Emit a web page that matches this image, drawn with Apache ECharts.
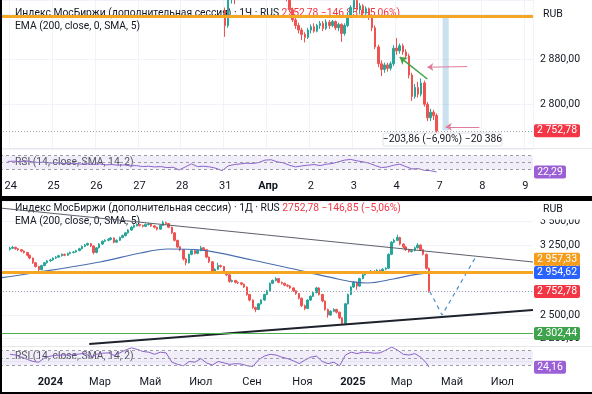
<!DOCTYPE html>
<html><head><meta charset="utf-8">
<script src="https://cdn.jsdelivr.net/npm/echarts@6/dist/echarts.min.js"></script>
<style>html,body{margin:0;padding:0;background:#fff}#c{width:592px;height:394px}</style>
</head><body><div id="c"></div>
<script>
// ================= DATA =================
// --- top panel (1 hour candles) ---
const topDayLabels = ['21','24','25','26','27','28','31','Апр','2','3','4','7','8','9'];
const topBoldLabels = ['Апр'];
const topPriceTicks = [2800, 2880];
const topCandleStart = '31|0';
// [open, close, low, high]  Mar 31 .. Apr 4, 14 bars per day
const topCandles = [
 [2966,2940,2920,2972],[2940,2988,2936,2992],[2988,2995,2979,3002],[2995,2990,2978,3004],[2990,3001,2986,3006],
 [3001,3008,2996,3012],[3008,3003,2998,3014],[3003,3010,3000,3016],[3010,3004,2999,3013],[3004,3012,3001,3018],
 [3012,3015,3007,3021],[3015,3009,3004,3019],[3009,3013,3005,3017],[3013,3011,3006,3016],
 [3011,3018,3004,3025],[3018,3012,3006,3022],[3012,3006,2998,3016],[3006,3010,3000,3014],[3010,3002,2996,3013],
 [3002,2996,2990,3006],[2996,2988,2983,3000],[2988,2968,2964,2992],[2968,2950,2946,2972],[2950,2940,2934,2956],
 [2940,2932,2926,2945],[2932,2924,2914,2936],[2924,2919,2910,2928],[2919,2932,2916,2936],
 [2932,2938,2926,2942],[2938,2930,2927,2944],[2930,2940,2928,2943],[2940,2944,2934,2948],[2944,2935,2930,2948],
 [2935,2946,2932,2951],[2946,2940,2934,2950],[2940,2947,2937,2950],[2947,2936,2932,2949],[2936,2942,2930,2945],
 [2942,2926,2911,2944],[2926,2940,2922,2944],[2940,2958,2937,2962],[2958,2972,2954,2976],
 [2972,2985,2962,2995],[2985,2968,2962,2990],[2968,2975,2960,2980],[2975,2962,2958,2978],[2962,2970,2956,2974],
 [2970,2955,2950,2972],[2955,2936,2930,2958],[2936,2902,2898,2940],[2902,2872,2866,2906],[2872,2862,2850,2878],
 [2862,2870,2856,2874],[2870,2864,2858,2874],[2864,2872,2860,2876],[2872,2899.63,2868,2905],
 [2900,2895,2888,2918],[2895,2904,2890,2908],[2904,2893,2888,2908],[2893,2886,2880,2898],[2886,2852,2846,2890],
 [2852,2814,2806,2856],[2814,2830,2810,2836],[2830,2818,2812,2840],[2818,2838,2814,2846],[2838,2800,2796,2842],
 [2800,2776,2770,2804],[2776,2786,2770,2792],[2786,2780,2772,2790],[2780,2752.78,2749,2784]
];
// RSI every second hourly bar, from the 3rd bar
const topRsi = [53,54,52,55,52,50,51,48,50,47,46,48,45,46,44,46,43,44,42,43,40,41,38,39,37,38,35,36,28,37,
 46,38,39,37,33,26,40,44,46,48,47,50,57,58,52,49,42,37,40,42,44,41,45,47,52,57,59,55,52,48,41,35,37,42,45,38,31,32,27,26,22.29];
const topLevel = 2957.33;
const lastPrice = 2752.78;
const topRsiLast = 22.29;
const measureFrom = 2957.33, measureTo = 2753.47;
const measureText = '−203,86 (−6,90%) −20 386';
const pinkArrows = [[['7|9', 2867], ['4|10', 2866]], [['7|13', 2760], ['7|2', 2760]]];
const greenArrows = [[['4|10', 2845], ['4|1', 2884]]];

// --- bottom panel (daily) ---
const bottomStart = '2023-11-13';
const bottomCandles = [
 [3205,3215,3190,3232],[3215,3225,3205,3240],[3225,3210,3198,3232],[3210,3200,3186,3218],[3200,3185,3172,3206],
 [3185,3170,3158,3192],[3170,3140,3128,3176],[3140,3110,3098,3148],[3110,3060,3048,3115],[3060,3020,3008,3066],
 [3020,2985,2962,3028],[2985,3030,2978,3038],[3030,3060,3022,3068],[3060,3080,3050,3090],[3080,3090,3070,3102],
 [3090,3110,3082,3118],[3110,3120,3100,3130],[3120,3135,3112,3145],[3135,3150,3126,3160],[3150,3140,3130,3158],
 [3140,3160,3134,3168],[3160,3170,3150,3180],[3170,3175,3160,3186],[3175,3190,3168,3198],[3190,3210,3184,3220],
 [3210,3235,3202,3245],[3235,3250,3226,3262],[3250,3265,3240,3276],[3265,3240,3228,3272],[3240,3170,3150,3246],
 [3170,3220,3162,3228],[3220,3260,3212,3270],[3260,3290,3252,3300],[3290,3300,3280,3312],[3300,3310,3290,3322],
 [3310,3325,3300,3336],[3325,3280,3268,3330],[3280,3300,3272,3310],[3300,3330,3294,3340],[3330,3350,3322,3362],
 [3350,3380,3342,3390],[3380,3410,3372,3420],[3410,3440,3402,3452],[3440,3460,3430,3472],[3460,3470,3450,3482],
 [3470,3460,3448,3478],[3460,3450,3438,3468],[3450,3470,3442,3480],[3470,3475,3458,3486],[3475,3455,3444,3482],
 [3455,3440,3428,3462],[3440,3420,3406,3446],[3420,3460,3414,3468],[3460,3490,3452,3510],[3490,3480,3466,3500],
 [3480,3440,3430,3486],[3440,3380,3368,3446],[3380,3300,3288,3386],[3300,3230,3218,3306],[3230,3200,3184,3238],
 [3200,3100,3084,3206],[3100,3060,3032,3110],[3060,3150,3052,3158],[3150,3190,3140,3200],[3190,3160,3150,3198],
 [3160,3190,3152,3200],[3190,3220,3182,3240],[3220,3200,3188,3228],[3200,3120,3108,3206],[3120,3070,3056,3126],
 [3070,2960,2948,3076],[2960,2990,2950,3000],[2990,3030,2982,3060],[3030,3020,3006,3040],[3020,2960,2948,3026],
 [2960,2930,2916,2968],[2930,2860,2846,2936],[2860,2870,2848,2880],[2870,2850,2838,2878],[2850,2845,2832,2860],
 [2845,2830,2818,2852],[2830,2800,2788,2836],[2800,2720,2706,2806],[2720,2660,2646,2726],[2660,2580,2566,2666],
 [2580,2560,2530,2590],[2560,2620,2552,2628],[2620,2660,2612,2670],[2660,2720,2652,2728],[2720,2760,2712,2770],
 [2760,2840,2752,2848],[2840,2870,2830,2880],[2870,2890,2860,2905],[2890,2850,2840,2896],[2850,2840,2828,2858],
 [2840,2820,2808,2846],[2820,2810,2798,2828],[2810,2790,2778,2818],[2790,2760,2748,2796],[2760,2730,2716,2766],
 [2730,2680,2666,2736],[2680,2600,2586,2686],[2600,2570,2552,2612],[2570,2660,2562,2668],[2660,2700,2650,2710],
 [2700,2740,2692,2750],[2740,2790,2732,2802],[2790,2720,2708,2796],[2720,2650,2636,2726],[2650,2560,2546,2656],
 [2560,2500,2472,2568],[2500,2540,2490,2552],[2540,2560,2530,2572],[2560,2530,2516,2566],[2530,2470,2456,2536],
 [2470,2410,2400,2476],[2410,2620,2404,2630],[2620,2720,2612,2730],[2720,2800,2712,2810],[2800,2850,2790,2862],
 [2850,2810,2770,2856],[2810,2890,2802,2900],[2890,2930,2882,2940],[2930,2950,2922,2960],[2950,2960,2940,2972],
 [2960,2970,2950,2982],[2970,2950,2938,2978],[2950,2980,2942,2990],[2980,2960,2948,2986],[2960,2990,2952,3000],
 [2990,3000,2980,3012],[3000,3150,2994,3160],[3150,3280,3142,3292],[3280,3300,3268,3318],[3300,3330,3290,3360],
 [3330,3260,3248,3338],[3260,3230,3218,3268],[3230,3200,3186,3238],[3200,3180,3168,3208],[3180,3190,3170,3202],
 [3190,3220,3182,3232],[3220,3250,3212,3270],[3250,3200,3188,3256],[3200,3150,3138,3208],[3150,3000,2986,3158],
 [3000,2752.78,2740,3008]
];
const emaDates = ['2023-11-01','2023-12-11','2024-03-01','2024-04-19','2024-05-22','2024-07-01','2024-09-01',
 '2024-11-01','2024-12-08','2025-01-01','2025-01-19','2025-02-19','2025-03-15','2025-04-03'];
const emaValues = [2897,2950,3068,3164,3207,3196,3089,2971,2897,2854,2843,2886,2929,2954.62];
const bottomRsi = [60,58,52,46,40,38,50,55,57,58,58,59,61,63,52,60,63,64,57,64,72,78,74,68,66,60,66,64,38,32,
 28,40,38,48,36,30,40,36,32,34,33,28,26,45,55,60,58,52,48,42,34,44,52,55,40,34,38,28,58,66,
 62,66,65,63,64,72,80,72,60,58,62,52,36,24.16];
const bottomRsiLastDate = '2025-04-03';
const emaLast = 2954.62;
const supportLevel = 2302.44;
const upperTrend = [['2023-11-01', 3646], ['2025-08-07', 3068]];
const lowerTrend = [['2024-02-17', 2190], ['2025-08-07', 2554]];
const projection = [['2025-04-04', 2752.78], ['2025-04-19', 2500], ['2025-05-31', 3143]];
const bottomTickDates = ['2024-01-01','2024-03-01','2024-05-01','2024-07-01','2024-09-01','2024-11-01',
 '2025-01-01','2025-03-01','2025-05-01','2025-07-01'];
const bottomTickLabels = ['2024','Мар','Май','Июл','Сен','Ноя','2025','Мар','Май','Июл'];
const bottomBoldLabels = ['2024','2025'];
const bottomPriceTicks = [2250, 2500, 2750, 3000, 3250, 3500];
const bottomRange = ['2023-11-01', '2025-08-07'];

// ================= BUILD =================
const DAY = 86400000;
function ts(s){ const p = s.split('-').map(Number); return Date.UTC(p[0], p[1]-1, p[2]); }
function fmt(v){ const s = v.toFixed(2).split('.'); return s[0].replace(/\B(?=(\d{3})+(?!\d))/g, ' ') + ',' + s[1]; }
const FONT = 'Roboto';

const allSlots = [];
topDayLabels.forEach(d => { for (let h = 0; h < 14; h++) allSlots.push(d + '|' + h); });
const topCats = allSlots.slice(11, 11 + 174);
const c0 = topCats.indexOf(topCandleStart);
const topCandleData = topCandles.map((c, i) => [c0 + i].concat(c));
const topRsiData = topRsi.map((v, i) => [2 + 2 * i, v]);
const isDayStart = (i, v) => String(v).split('|')[1] === '0';
const topLabelFmt = v => { const d = String(v).split('|')[0]; return topBoldLabels.includes(d) ? '{b|' + d + '}' : d; };

const b0 = ts(bottomStart);
const bottomCandleData = bottomCandles.map((c, k) => [b0 + (Math.floor(k / 2) * 7 + (k % 2) * 3) * DAY].concat(c));
const emaData = emaDates.map((d, i) => [ts(d), emaValues[i]]);
const bottomRsiData = bottomRsi.map((v, i) => [i < bottomRsi.length - 1 ? b0 + i * 7 * DAY : ts(bottomRsiLastDate), v]);
const tickTs = bottomTickDates.map(ts);
const bottomLabelFmt = v => {
  for (let i = 0; i < tickTs.length; i++) {
    if (Math.abs(tickTs[i] - v) < 3 * DAY) {
      const l = bottomTickLabels[i];
      return bottomBoldLabels.includes(l) ? '{b|' + l + '}' : l;
    }
  }
  return '';
};
const toPts = arr => arr.map(p => [ts(p[0]), p[1]]);

const UP = '#26a69a', DOWN = '#ef5350';
const candleStyle = {color: UP, color0: DOWN, borderColor: UP, borderColor0: DOWN, borderWidth: 1};
const rsiBand = {
  silent: true,
  data: [[{yAxis: 30}, {yAxis: 70}]],
  itemStyle: {color: 'rgba(126,87,194,0.10)'}
};
const rsiLines = {
  silent: true, symbol: 'none', label: {show: false},
  lineStyle: {color: '#9a9ca6', type: [3, 3], width: 1},
  data: [{yAxis: 70}, {yAxis: 50}, {yAxis: 30}]
};
const axisLabelBase = {color: '#131722', fontSize: 11, fontFamily: FONT};
const priceLabelBase = {color: '#131722', fontSize: 10.5, fontFamily: FONT};

const option = {
  animation: false,
  backgroundColor: '#fff',
  textStyle: {fontFamily: FONT},
  grid: [
    {left: 0, right: 59, top: 0, height: 149.3},
    {left: 0, right: 59, top: 145.5, height: 34},
    {left: 0, right: 59, top: 201, height: 160.67},
    {left: 0, right: 59, top: 340, height: 35.8}
  ],
  xAxis: [
    {type: 'category', gridIndex: 0, data: topCats, axisLine: {show: false}, axisTick: {show: false},
     axisLabel: {show: false}, splitLine: {show: true, interval: isDayStart, lineStyle: {color: '#f0f3fa'}}},
    {type: 'category', gridIndex: 1, data: topCats, axisLine: {show: false}, axisTick: {show: false},
     axisLabel: Object.assign({interval: isDayStart, formatter: topLabelFmt, margin: 1,
       rich: {b: {fontWeight: 'bold', fontSize: 11, color: '#131722', fontFamily: FONT}}}, axisLabelBase),
     splitLine: {show: false}},
    {type: 'value', gridIndex: 2, min: ts(bottomRange[0]), max: ts(bottomRange[1]), axisLine: {show: false},
     axisTick: {show: false}, axisLabel: {show: false}, splitLine: {show: false}},
    {type: 'value', gridIndex: 3, min: ts(bottomRange[0]), max: ts(bottomRange[1]), axisLine: {show: false},
     axisTick: {show: false},
     axisLabel: Object.assign({customValues: tickTs, formatter: bottomLabelFmt, margin: 1, hideOverlap: false,
       showMinLabel: true, showMaxLabel: true,
       rich: {b: {fontWeight: 'bold', fontSize: 11, color: '#131722', fontFamily: FONT}}}, axisLabelBase),
     splitLine: {show: false}}
  ],
  yAxis: [
    {type: 'value', gridIndex: 0, position: 'right', min: 2720, max: 2985.4, interval: 80,
     axisLine: {show: false}, axisTick: {show: false},
     axisLabel: Object.assign({margin: 7, formatter: v => topPriceTicks.includes(v) ? fmt(v) : ''}, priceLabelBase),
     splitLine: {lineStyle: {color: '#f0f3fa'}}},
    {type: 'value', gridIndex: 1, min: 0, max: 100, show: false},
    {type: 'value', gridIndex: 2, position: 'right', min: 2000, max: 3721.4, interval: 250,
     axisLine: {show: false}, axisTick: {show: false},
     axisLabel: Object.assign({margin: 7, formatter: v => bottomPriceTicks.includes(v) ? fmt(v) : ''}, priceLabelBase),
     splitLine: {lineStyle: {color: '#f0f3fa'}}},
    {type: 'value', gridIndex: 3, min: 0, max: 100, show: false}
  ],
  series: [
    {type: 'candlestick', name: 'top', xAxisIndex: 0, yAxisIndex: 0, data: topCandleData,
     encode: {x: 0, y: [1, 2, 3, 4]}, barWidth: 2, itemStyle: candleStyle, z: 3,
     markLine: {silent: true, symbol: 'none', label: {show: false}, animation: false,
       data: [
         {yAxis: topLevel, lineStyle: {color: '#f5a623', width: 3, type: 'solid'}},
         {yAxis: lastPrice, lineStyle: {color: '#a3a6af', width: 1, type: [1, 2]}}
       ]},
     markArea: {silent: true, data: [[{xAxis: '7|1', yAxis: measureFrom}, {xAxis: '7|3', yAxis: measureTo}]],
       itemStyle: {color: 'rgba(120,175,215,0.38)'}}},
    {type: 'line', xAxisIndex: 0, yAxisIndex: 0, data: [],
     markLine: {silent: true, symbol: ['none', 'arrow'], symbolSize: 6, label: {show: false},
       lineStyle: {color: '#e07b9b', width: 1, type: 'solid'},
       data: pinkArrows.map(a => [{coord: a[0]}, {coord: a[1]}])}},
    {type: 'line', xAxisIndex: 0, yAxisIndex: 0, data: [],
     markLine: {silent: true, symbol: ['none', 'arrow'], symbolSize: 7, label: {show: false},
       lineStyle: {color: '#43a047', width: 1.5, type: 'solid'},
       data: greenArrows.map(a => [{coord: a[0]}, {coord: a[1]}])}},
    {type: 'line', xAxisIndex: 1, yAxisIndex: 1, data: topRsiData, symbol: 'none',
     lineStyle: {color: '#8a63c9', width: 1}, markArea: rsiBand, markLine: rsiLines},

    {type: 'line', xAxisIndex: 2, yAxisIndex: 2, data: emaData, smooth: 0.35, symbol: 'none',
     lineStyle: {color: '#4a6fb0', width: 1.2}},
    {type: 'candlestick', name: 'bottom', xAxisIndex: 2, yAxisIndex: 2, data: bottomCandleData,
     encode: {x: 0, y: [1, 2, 3, 4]}, barWidth: 2, itemStyle: candleStyle,
     markLine: {silent: true, symbol: 'none', label: {show: false},
       data: [
         {yAxis: topLevel, lineStyle: {color: '#f5a623', width: 3, type: 'solid'}},
         {yAxis: supportLevel, lineStyle: {color: '#4caf50', width: 1, type: 'solid'}},
         {yAxis: lastPrice, lineStyle: {color: '#a3a6af', width: 1, type: [1, 2]}}
       ]}},
    {type: 'line', xAxisIndex: 2, yAxisIndex: 2, data: toPts(upperTrend), symbol: 'none',
     lineStyle: {color: '#5d606b', width: 1}},
    {type: 'line', xAxisIndex: 2, yAxisIndex: 2, data: toPts(lowerTrend), symbol: 'none',
     lineStyle: {color: '#1e222d', width: 2}},
    {type: 'line', xAxisIndex: 2, yAxisIndex: 2, data: toPts(projection), symbol: 'none',
     lineStyle: {color: '#4a90c8', width: 1.2, type: [4, 4]}},
    {type: 'line', xAxisIndex: 3, yAxisIndex: 3, data: bottomRsiData, symbol: 'none',
     lineStyle: {color: '#8a63c9', width: 1}, markArea: rsiBand, markLine: rsiLines}
  ]
};

const chart = echarts.init(document.getElementById('c'), null, {renderer: 'canvas'});
chart.setOption(option);

// ---------- overlays (badges, legends, frame) ----------
const py = (idx, v) => chart.convertToPixel({yAxisIndex: idx}, v);
const Z = 100;
const LF = '10.3px ' + FONT;
function badge(y, text, color, w) {
  return [
    {type: 'rect', z: Z, shape: {x: 534, y: y - 6.5, width: w, height: 13, r: 2}, style: {fill: color}},
    {type: 'text', z: Z + 1, x: 534 + w / 2, y: y, style: {text: text, fill: '#fff', font: '10.5px ' + FONT, align: 'center', verticalAlign: 'middle'}}
  ];
}
function legend(x, y, rich, text, z) {
  return {type: 'text', z: z, x: x, y: y, style: {text: text, rich: rich, font: LF, fill: '#131722', verticalAlign: 'middle'}};
}
const richT = {a: {fill: '#131722', font: LF}, r: {fill: '#f23645', font: LF}};
const richG = {a: {fill: '#50535e', font: LF}};
const fmtPlain = v => v.toFixed(2).replace('.', ',');
const g = [];
g.push(legend(15, 13.5, richT, '{a|Индекс МосБиржи (дополнительная сессия) · 1Ч · RUS} {r|' + fmtPlain(lastPrice) + '} {r|−146,85 (−5,06%)}', 1));
g.push(legend(15, 26, richT, '{a|EMA (200, close, 0, SMA, 5)}', 1));
g.push(legend(15, 162.5, richG, '{a|RSI (14, close, SMA, 14, 2)}', 1));
g.push(legend(15, 208, richT, '{a|Индекс МосБиржи (дополнительная сессия) · 1Д · RUS} {r|' + fmtPlain(lastPrice) + '} {r|−146,85 (−5,06%)}', 1));
g.push(legend(15, 221.7, richT, '{a|EMA (200, close, 0, SMA, 5)}', 1));
g.push(legend(15, 356.7, richG, '{a|RSI (14, close, SMA, 14, 2)}', 1));
g.push({type: 'rect', z: Z, shape: {x: 534, y: 0, width: 56, height: 20}, style: {fill: '#fff'}});
g.push({type: 'text', z: Z + 1, x: 543, y: 14, style: {text: 'RUB', fill: '#131722', font: '10.5px ' + FONT, verticalAlign: 'middle'}});
g.push({type: 'rect', z: Z, shape: {x: 534, y: 201, width: 56, height: 18.5}, style: {fill: '#fff'}});
g.push({type: 'text', z: Z + 1, x: 543, y: 209, style: {text: 'RUB', fill: '#131722', font: '10.5px ' + FONT, verticalAlign: 'middle'}});
g.push(...badge(py(0, lastPrice), fmt(lastPrice), '#f23645', 46));
g.push(...badge(py(1, topRsiLast), fmtPlain(topRsiLast), '#9b5fd6', 32));
g.push(...badge(py(2, topLevel) - 13, fmt(topLevel), '#f59d1b', 46));
g.push(...badge(py(2, emaLast), fmt(emaLast), '#2962ff', 46));
g.push(...badge(py(2, lastPrice), fmt(lastPrice), '#f23645', 46));
g.push(...badge(py(2, supportLevel), fmt(supportLevel), '#3fa34d', 46));
g.push(...badge(py(3, bottomRsi[bottomRsi.length - 1]), fmtPlain(bottomRsi[bottomRsi.length - 1]), '#9b5fd6', 32));
g.push({type: 'rect', z: Z, shape: {x: 383, y: 133, width: 119, height: 13, r: 2}, style: {fill: '#fff', stroke: '#dfe2e8', lineWidth: 1}});
g.push({type: 'text', z: Z + 1, x: 442.5, y: 139.5, style: {text: measureText, fill: '#131722', font: '10.3px ' + FONT, align: 'center', verticalAlign: 'middle'}});
g.push({type: 'line', z: 1, shape: {x1: 0, y1: 148.5, x2: 592, y2: 148.5}, style: {stroke: '#e6e8ee', lineWidth: 1}});
g.push({type: 'line', z: 1, shape: {x1: 0, y1: 346.5, x2: 592, y2: 346.5}, style: {stroke: '#e6e8ee', lineWidth: 1}});
g.push({type: 'rect', z: Z + 5, shape: {x: 0, y: 0, width: 2, height: 394}, style: {fill: '#000'}});
g.push({type: 'rect', z: Z + 5, shape: {x: 0, y: 196, width: 592, height: 5}, style: {fill: '#000'}});
g.push({type: 'rect', z: Z + 5, shape: {x: 0, y: 392, width: 592, height: 2}, style: {fill: '#000'}});
chart.setOption({graphic: g});
</script>
</body></html>
